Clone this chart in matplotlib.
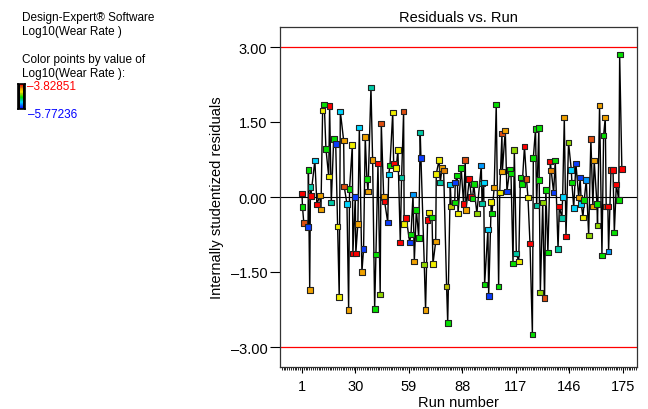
import numpy as np
import matplotlib
matplotlib.use("Agg")
import matplotlib.pyplot as plt
from matplotlib.colors import LinearSegmentedColormap, Normalize
from matplotlib.ticker import FixedLocator, MultipleLocator

plt.rcParams['font.family'] = ['Liberation Sans', 'DejaVu Sans']

# run number, studentized residual, log10(wear rate) from point colour
run = [1.0, 1.3, 2.0, 4.3, 4.5, 5.2, 5.6, 5.8, 8.0, 9.1,
       10.6, 11.3, 12.2, 13.1, 14.0, 15.5, 16.0, 16.9, 18.2, 19.3,
       20.3, 21.2, 21.8, 23.6, 23.9, 25.4, 26.3, 26.8, 28.3, 28.6,
       29.9, 30.2, 31.3, 32.1, 33.5, 34.4, 35.3, 36.2, 36.8, 38.4,
       39.3, 40.4, 41.1, 42.2, 43.4, 44.0, 45.3, 45.8, 47.5, 48.0,
       48.7, 50.2, 50.7, 52.1, 53.0, 54.3, 55.0, 56.1, 56.4, 57.5,
       59.4, 60.1, 61.2, 61.9, 63.0, 64.3, 65.1, 65.5, 67.3, 68.0,
       69.1, 69.7, 71.5, 72.0, 73.5, 73.8, 75.3, 76.0, 76.9, 77.8,
       79.4, 80.0, 81.4, 81.9, 83.8, 84.1, 85.2, 85.6, 87.3, 88.6,
       89.5, 89.9, 91.7, 92.8, 93.5, 94.1, 95.8, 98.2, 98.4, 98.6,
       99.5, 100.0, 101.8, 102.2, 103.6, 104.0, 105.2, 106.3, 107.6, 108.2,
       109.4, 109.6, 111.2, 112.1, 113.6, 114.3, 115.4, 116.1, 117.2, 118.5,
       119.4, 120.4, 121.6, 122.7, 123.5, 124.6, 125.9, 126.4, 127.6, 128.2,
       129.4, 129.6, 130.2, 131.5, 132.5, 133.2, 134.3, 135.6, 136.1, 137.4,
       138.3, 139.8, 140.5, 141.9, 142.3, 143.2, 144.1, 145.5, 147.0, 147.3,
       148.3, 149.5, 151.0, 151.8, 152.4, 153.3, 154.0, 155.1, 156.4, 157.6,
       158.7, 159.4, 160.9, 161.2, 162.3, 163.6, 164.5, 165.4, 165.9, 166.8,
       167.2, 168.5, 169.6, 170.3, 171.4, 172.7, 173.2, 174.4]

resid = [0.07, -0.20, -0.52, -0.60, 0.54, -1.86, 0.20, 0.02, 0.73, -0.15,
         0.03, -0.25, 1.73, 1.85, 0.96, 0.41, 1.82, -0.11, 1.16, 1.06,
         -0.59, -2.00, 1.71, 1.13, 0.21, -0.14, -2.26, 0.16, 1.04, -1.13,
         0.00, -1.13, -0.54, 1.39, -1.50, -1.04, 1.20, 0.36, 0.11, 2.19,
         0.74, -2.24, -1.15, 0.67, -1.95, 1.47, 0.00, -0.09, -0.51, 0.45,
         0.63, 1.69, 0.67, 0.58, 0.94, -0.91, 0.39, 1.71, -0.54, -0.42,
         -0.91, -0.75, 0.05, -1.29, -0.26, -0.82, 1.29, 0.78, -1.35, -2.26,
         -0.46, -0.31, -0.41, -1.34, -0.89, 0.46, 0.74, 0.29, 0.58, 0.53,
         -1.79, -2.52, 0.25, -0.19, -0.11, 0.29, 0.43, -0.33, 0.58, -0.14,
         0.74, -0.26, 0.36, 0.00, -0.03, 0.26, -0.33, 0.63, 0.27, -0.13,
         0.29, -1.75, -0.65, -1.98, -0.10, -0.33, 0.19, 1.85, -1.79, 0.09,
         1.27, 0.51, 1.33, 0.11, 0.54, 0.47, -1.33, 0.94, -1.13, -1.29,
         0.39, 0.26, 1.01, 0.36, -0.01, -0.93, -2.75, 0.78, 1.36, -0.17,
         1.38, 0.34, -1.91, -0.11, -2.02, 0.14, -1.11, 0.71, 0.53, 0.09,
         0.73, -1.04, -0.19, -0.42, 0.00, 1.59, -0.79, 1.09, 0.54, 0.29,
         -0.22, 0.67, -0.01, 0.39, -0.14, -0.41, -0.06, 0.34, -0.77, 1.16,
         -0.19, 0.73, -0.14, -0.57, 1.83, -1.17, 1.23, 1.59, -0.19, -0.19,
         -1.09, 0.54, 0.54, -0.71, 0.25, -0.06, 2.85, 0.56]

wear = [-3.90, -4.85, -4.00, -5.60, -4.85, -4.20, -5.10, -3.90, -5.25, -3.90,
        -4.20, -4.20, -4.45, -4.85, -4.85, -4.45, -3.90, -5.10, -4.85, -5.60,
        -4.45, -4.45, -5.25, -4.20, -4.00, -5.25, -4.20, -4.85, -4.45, -3.90,
        -5.60, -3.90, -4.20, -5.25, -4.20, -5.60, -4.20, -4.85, -4.20, -5.10,
        -4.20, -4.85, -4.85, -3.90, -4.62, -4.00, -4.20, -3.90, -5.60, -5.25,
        -4.85, -4.45, -3.90, -4.45, -4.45, -3.90, -5.10, -4.00, -4.45, -3.90,
        -5.60, -4.85, -5.40, -4.20, -4.85, -4.85, -5.10, -5.60, -4.62, -4.20,
        -3.90, -4.45, -4.85, -4.45, -4.20, -4.45, -4.45, -5.10, -4.20, -4.12,
        -4.55, -4.85, -5.25, -4.55, -4.85, -5.60, -4.85, -4.45, -4.85, -3.90,
        -4.00, -4.20, -3.90, -3.90, -4.85, -4.85, -4.62, -5.40, -5.10, -5.10,
        -5.25, -4.85, -5.25, -5.60, -4.45, -4.85, -4.20, -4.85, -4.85, -4.45,
        -4.00, -4.20, -4.20, -5.60, -4.85, -4.85, -4.85, -4.62, -5.10, -4.45,
        -4.85, -4.85, -3.90, -4.00, -4.45, -3.90, -4.85, -4.85, -4.85, -5.10,
        -4.85, -4.85, -4.62, -4.62, -4.00, -4.85, -4.85, -3.90, -4.12, -5.60,
        -4.85, -5.10, -3.90, -5.10, -5.25, -4.20, -3.90, -4.62, -5.25, -4.85,
        -5.25, -5.60, -4.20, -5.60, -5.25, -4.45, -4.85, -5.40, -4.62, -4.00,
        -4.20, -4.20, -4.85, -4.62, -4.20, -4.85, -4.85, -4.20, -4.00, -3.90,
        -5.40, -4.00, -3.90, -4.85, -3.90, -4.85, -4.85, -3.90]

wear_max = -3.82851
wear_min = -5.77236
xticks = [1, 30, 59, 88, 117, 146, 175]
yticks = [-3.0, -1.5, 0.0, 1.5, 3.0]
ylabels = ['\u20133.00', '\u20131.50', '0.00', '1.50', '3.00']

cmap = LinearSegmentedColormap.from_list('de', [
    (0.0, '#0000ff'), (0.09, '#0a40ff'), (0.19, '#0098ff'), (0.27, '#00d8ff'),
    (0.35, '#00c8a0'), (0.47, '#00e000'), (0.59, '#90d800'), (0.63, '#c0c000'),
    (0.68, '#f0f000'), (0.84, '#f09000'), (0.88, '#c86010'), (0.94, '#f04010'),
    (0.96, '#ff0000'), (1.0, '#ff0000')])
norm = Normalize(wear_min, wear_max)

fig = plt.figure(figsize=(6.48, 4.10), dpi=100)
ax = fig.add_axes([280/648, 1 - 368/410, 357/648, 340/410])

ax.axhline(3.0, color='#ff0000', lw=0.9, zorder=1)
ax.axhline(-3.0, color='#ff0000', lw=0.9, zorder=1)
ax.axhline(0.0, color='black', lw=0.8, zorder=1)

ax.plot(run, resid, color='black', lw=1.0, zorder=2)
ax.scatter(run, resid, c=[cmap(norm(w)) for w in wear], marker='s', s=17,
           edgecolors='#222222', linewidths=0.8, zorder=3)

ax.set_xlim(-10.9, 182.6)
ax.set_ylim(-3.4, 3.4)
ax.xaxis.set_major_locator(FixedLocator(xticks))
ax.xaxis.set_minor_locator(MultipleLocator(1))
ax.set_yticks(yticks)
ax.set_yticklabels(ylabels)
ax.tick_params(axis='y', direction='out', length=7, width=0.8, pad=2, labelsize=10.5)
ax.tick_params(axis='x', which='major', direction='out', length=4, width=0.8, pad=5, labelsize=10.5)
ax.tick_params(axis='x', which='minor', direction='out', length=2.2, width=0.6)
for s in ax.spines.values():
    s.set_color('#333333')
    s.set_linewidth(0.9)

ax.set_title('Residuals vs. Run', fontsize=10.5, pad=4)
ax.set_xlabel('Run number', fontsize=10.5, labelpad=1)
ax.set_ylabel('Internally studentized residuals', fontsize=10.5, labelpad=5)

# side notes
fig.text(22/648, 1 - 18/410, 'Design-Expert\u00ae Software', fontsize=8.5, va='center')
fig.text(22/648, 1 - 32/410, 'Log10(Wear Rate )', fontsize=8.5, va='center')
fig.text(22/648, 1 - 60/410, 'Color points by value of', fontsize=8.5, va='center')
fig.text(22/648, 1 - 74/410, 'Log10(Wear Rate ):', fontsize=8.5, va='center')
fig.text(27/648, 1 - 87/410, '\u2013' + f'{abs(wear_max):.5f}', fontsize=8.5,
         va='center', color='#ff0000')
fig.text(28/648, 1 - 115/410, '\u2013' + f'{abs(wear_min):.5f}', fontsize=8.5,
         va='center', color='#0000ff')

cax = fig.add_axes([18/648, 1 - 110/410, 7/648, 25/410])
cax.set_facecolor('black')
grad = np.linspace(wear_max, wear_min, 50).reshape(-1, 1)
cax.imshow(grad, cmap=cmap, norm=norm, aspect='auto', extent=(0.3, 0.7, 0, 1))
cax.set_xlim(0, 1)
cax.set_ylim(0, 1)
cax.set_xticks([])
cax.set_yticks([])
for s in cax.spines.values():
    s.set_linewidth(1.2)

fig.savefig('out.png', dpi=100)
